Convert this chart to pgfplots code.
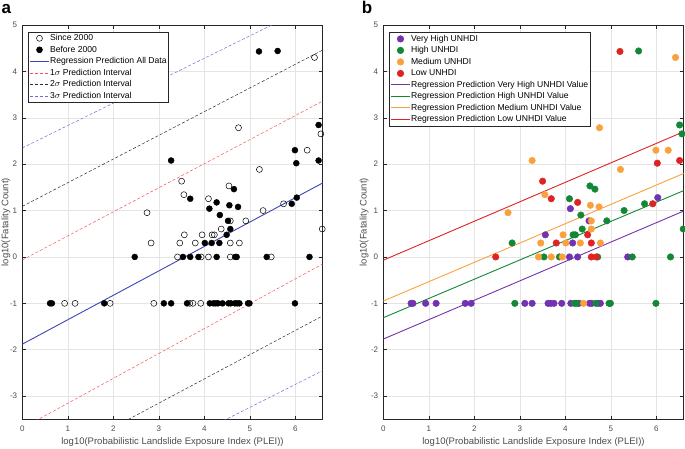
\documentclass[border=0pt]{standalone}
\usepackage{fontspec}
\setmainfont{Liberation Sans}
\usepackage{pgfplots}
\pgfplotsset{compat=1.18}
\definecolor{vhP}{RGB}{115,50,175}
\definecolor{hG}{RGB}{20,135,55}
\definecolor{mO}{RGB}{250,160,60}
\definecolor{lR}{RGB}{222,35,35}
\definecolor{regB}{RGB}{60,70,180}
\definecolor{sigR}{RGB}{245,85,85}
\definecolor{sigK}{RGB}{45,45,45}
\definecolor{sigB}{RGB}{110,110,215}
\definecolor{axC}{RGB}{38,38,38}
\definecolor{tickC}{RGB}{75,75,75}
\definecolor{gridC}{RGB}{228,228,228}
\pgfplotsset{
  linelegend/.style={legend image code/.code={\draw[##1] (0pt,0pt) -- (19pt,0pt);}},
  marklegend/.style={legend image code/.code={\draw[##1] plot coordinates {(9.5pt,0pt)};}},
  myaxis/.style={
    scale only axis, width=300.4pt, height=394.3pt,
    anchor=south west,
    xmin=0, xmax=6.6, ymin=-3.5, ymax=5,
    xtick={0,1,2,3,4,5,6}, ytick={-3,-2,-1,0,1,2,3,4,5},
    grid=major, major grid style={draw=gridC, line width=0.5pt},
    axis line style={draw=axC, line width=0.5pt},
    tick style={draw=axC, line width=0.5pt},
    major tick length=3.5pt, tick align=inside,
    /pgf/number format/assume math mode=true,
    ticklabel style={font=\fontsize{8}{9}\selectfont, text=tickC},
    yticklabel style={xshift=-1.6pt},
    xticklabel style={yshift=-3pt},
    label style={font=\fontsize{9.5}{11}\selectfont, text=tickC},
    xlabel={log10(Probabilistic Landslide Exposure Index (PLEI))},
    ylabel={log10(Fatality Count)},
    xlabel style={at={(axis description cs:0.5,0)}, anchor=center, yshift=-22.7pt},
    legend cell align=left,
    legend style={draw=axC, line width=0.5pt, fill=white,
      at={(rel axis cs:0,1)}, anchor=north west,
      inner xsep=1pt, inner ysep=0.6pt,
      font=\fontsize{8.6}{10}\selectfont,
      nodes={inner xsep=0.6pt, inner ysep=0.5pt, text height=7.8pt, text depth=2.7pt}},
  }
}
\begin{document}
\begin{tikzpicture}[x=1pt,y=1pt]
\useasboundingbox (0,0) rectangle (685,448);
\node[anchor=base west, font=\fontsize{17}{18}\bfseries, inner sep=0pt] at (1.5,434.7) {a};
\node[anchor=base west, font=\fontsize{17}{18}\bfseries, inner sep=0pt] at (361.7,434.7) {b};

\begin{axis}[myaxis, at={(22.3pt,28.7pt)},
  ylabel style={at={(axis description cs:-0.0549,0.5)}, anchor=center},
  legend style={xshift=6pt, yshift=-6.7pt}]
\addplot[only marks, mark=o, mark size=3pt, black, line width=0.5pt, marklegend] coordinates {
(6.26,2.301)(5.21,1.886)(3.50,1.633)(3.55,1.342)(4.54,1.531)(4.09,1.255)
(4.57,0.778)(4.91,0.778)(5.29,1.0)(5.74,1.146)(6.59,0.602)(4.37,0.602)
(3.56,0.477)(3.95,0.477)(4.17,0.477)(4.22,0.477)(2.83,0.301)(3.46,0.301)
(3.80,0.301)(4.57,0.301)(4.77,0.301)(3.41,0)(3.93,0)(4.09,0)(4.57,0)(5.47,0)
(2.74,0.954)(6.42,4.30)(4.75,2.785)(6.56,2.653)
(0.93,-1)(1.16,-1)(1.93,-1)(2.89,-1)(3.68,-1)(3.75,-1)(3.92,-1)
};
\addlegendentry{Since 2000}
\addplot[only marks, mark=*, mark size=3pt, black, marklegend] coordinates {
(3.27,2.079)(5.99,2.301)(6.02,2.021)(6.51,2.079)(3.69,1.255)(4.65,1.462)
(4.27,1.176)(4.11,1.041)(4.55,1.114)(4.74,1.079)(4.34,0.903)(4.52,0.778)
(5.92,1.146)(6.03,1.279)(4.57,0.602)(4.49,0.477)(4.01,0.301)(4.16,0.301)
(4.33,0.301)(3.53,0)(3.69,0)(3.87,0)(4.27,0)(4.68,0)(4.71,0)(5.37,0)(6.31,0)
(2.47,0)(5.20,4.43)(5.61,4.44)(6.51,2.845)
(0.61,-1)(0.65,-1)(1.80,-1)(3.11,-1)(3.27,-1)(3.62,-1)(4.12,-1)(4.20,-1)
(4.25,-1)(4.30,-1)(4.40,-1)(4.53,-1)(4.58,-1)(4.67,-1)(4.72,-1)(4.77,-1)
(4.96,-1)(4.99,-1)(5.99,-1)
};
\addlegendentry{Before 2000}
\addplot[regB, line width=0.9pt, linelegend] coordinates {(0,-1.88)(6.6,1.595)};
\addlegendentry{Regression Prediction All Data}
\addplot[sigR, line width=0.5pt, dash pattern=on 3pt off 2pt, linelegend] coordinates {(0,-0.065)(6.6,3.36)};
\addlegendentry{1$\sigma$ Prediction Interval}
\addplot[sigK, line width=0.5pt, dash pattern=on 3pt off 2pt, linelegend] coordinates {(0,1.09)(6.6,4.46)};
\addlegendentry{2$\sigma$ Prediction Interval}
\addplot[sigB, line width=0.5pt, dash pattern=on 3pt off 2pt, linelegend] coordinates {(0,2.35)(6.6,5.54)};
\addlegendentry{3$\sigma$ Prediction Interval}
\addplot[sigR, line width=0.5pt, dash pattern=on 3pt off 2pt, forget plot] coordinates {(0,-3.69)(6.6,-0.15)};
\addplot[sigK, line width=0.5pt, dash pattern=on 3pt off 2pt, forget plot] coordinates {(0,-4.72)(6.6,-1.27)};
\addplot[sigB, line width=0.5pt, dash pattern=on 3pt off 2pt, forget plot] coordinates {(0,-5.72)(6.6,-2.45)};
\end{axis}

\begin{axis}[myaxis, at={(383.3pt,28.7pt)},
  ylabel style={at={(axis description cs:-0.0636,0.5)}, anchor=center},
  legend style={xshift=6pt, yshift=-7.3pt}]
\addplot[only marks, mark=*, mark size=3.3pt, vhP, marklegend] coordinates {
(4.11,1.041)(4.52,0.778)(6.03,1.279)(4.16,0.301)(4.27,0)(5.37,0)(3.56,0.477)(4.09,0)
(0.61,-1)(0.65,-1)(1.80,-1)(3.11,-1)(3.27,-1)(3.62,-1)(4.12,-1)(4.30,-1)
(4.53,-1)(4.58,-1)(4.72,-1)(4.77,-1)(0.93,-1)(1.16,-1)(1.93,-1)(3.68,-1)(3.75,-1)(3.92,-1)
};
\addlegendentry{Very High UNHDI}
\addplot[only marks, mark=*, mark size=3.3pt, hG, marklegend] coordinates {
(4.65,1.462)(4.34,0.903)(3.53,0)(3.87,0)(4.71,0)(6.31,0)(5.61,4.44)(6.51,2.845)
(4.54,1.531)(4.09,1.255)(4.91,0.778)(5.29,1.0)(5.74,1.146)(6.59,0.602)(4.37,0.602)
(4.17,0.477)(4.22,0.477)(2.83,0.301)(5.47,0)(6.56,2.653)
(4.20,-1)(4.25,-1)(4.67,-1)(4.96,-1)(4.99,-1)(5.99,-1)(2.89,-1)
};
\addlegendentry{High UNHDI}
\addplot[only marks, mark=*, mark size=3.3pt, mO, marklegend] coordinates {
(3.27,2.079)(5.99,2.301)(4.55,1.114)(4.74,1.079)(4.57,0.602)(4.01,0.301)(4.33,0.301)
(3.69,0)(6.26,2.301)(5.21,1.886)(3.55,1.342)(4.57,0.778)(3.95,0.477)(3.46,0.301)
(4.77,0.301)(3.41,0)(3.93,0)(2.74,0.954)(6.42,4.30)(4.75,2.785)(4.40,-1)
};
\addlegendentry{Medium UNHDI}
\addplot[only marks, mark=*, mark size=3.3pt, lR, marklegend] coordinates {
(6.02,2.021)(6.51,2.079)(3.69,1.255)(4.27,1.176)(5.92,1.146)(4.49,0.477)(4.68,0)
(2.47,0)(5.20,4.43)(3.50,1.633)(3.80,0.301)(4.57,0.301)(4.57,0)
};
\addlegendentry{Low UNHDI}
\addplot[vhP, line width=0.9pt, linelegend] coordinates {(0,-1.77)(6.6,0.99)};
\addlegendentry{Regression Prediction Very High UNHDI Value}
\addplot[hG, line width=0.9pt, linelegend] coordinates {(0,-1.31)(6.6,1.43)};
\addlegendentry{Regression Prediction High UNHDI Value}
\addplot[mO, line width=0.9pt, linelegend] coordinates {(0,-0.95)(6.6,1.80)};
\addlegendentry{Regression Prediction Medium UNHDI Value}
\addplot[lR, line width=0.9pt, linelegend] coordinates {(0,-0.07)(6.6,2.70)};
\addlegendentry{Regression Prediction Low UNHDI Value}
\end{axis}
\end{tikzpicture}
\end{document}
